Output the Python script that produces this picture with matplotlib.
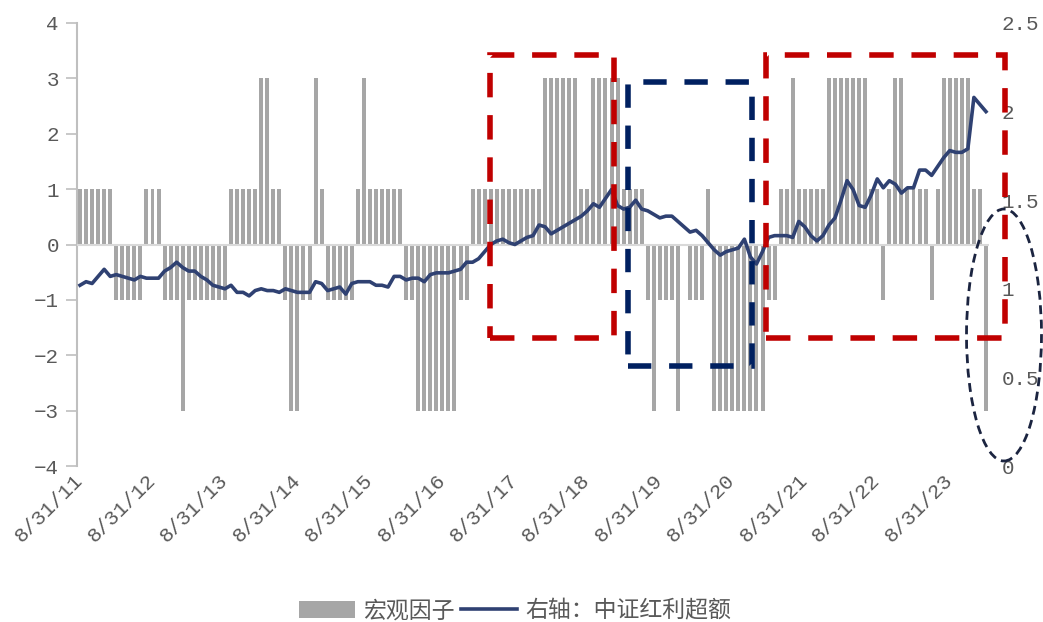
import matplotlib
matplotlib.use('Agg')
import matplotlib.pyplot as plt
from matplotlib.patches import Rectangle, Ellipse, Patch
from matplotlib.lines import Line2D
from matplotlib.font_manager import FontProperties
from matplotlib.transforms import ScaledTranslation

# ---------------- data ----------------
# monthly macro factor signal, Aug 2011 .. Feb 2024
macro = [
    1, 1, 1, 1, 1, 1, -1, -1, -1, -1,
    -1, 1, 1, 1, -1, -1, -1, -3, -1, -1,
    -1, -1, -1, -1, -1, 1, 1, 1, 1, 1,
    3, 3, 1, 1, -1, -3, -3, -1, -1, 3,
    1, -1, -1, -1, -1, -1, 1, 3, 1, 1,
    1, 1, 1, 1, -1, -1, -3, -3, -3, -3,
    -3, -3, -3, -1, -1, 1, 1, 1, 1, 1,
    1, 1, 1, 1, 1, 1, 1, 3, 3, 3,
    3, 3, 3, 1, 1, 3, 3, 3, 3, 3,
    1, 1, 1, 1, -1, -3, -1, -1, -1, -3,
    0, -1, -1, -1, 1, -3, -3, -3, -3, -3,
    -3, -3, -3, -3, -1, -1, 1, 1, 3, 1,
    1, 1, 1, 1, 3, 3, 3, 3, 3, 3,
    3, 1, 1, -1, 1, 3, 3, 1, 1, 1,
    1, -1, 1, 3, 3, 3, 3, 3, 1, 1,
    -3,
]

# right axis: CSI dividend excess (cumulative)
excess = [
    1.02, 1.04, 1.03, 1.07, 1.11, 1.07, 1.08, 1.07, 1.06, 1.05,
    1.07, 1.06, 1.06, 1.06, 1.10, 1.12, 1.15, 1.12, 1.10, 1.10,
    1.07, 1.05, 1.02, 1.01, 1.00, 1.02, 0.98, 0.98, 0.96, 0.99,
    1.00, 0.99, 0.99, 0.98, 1.00, 0.99, 0.98, 0.98, 0.98, 1.04,
    1.03, 0.99, 1.00, 1.01, 0.97, 1.03, 1.04, 1.04, 1.04, 1.02,
    1.02, 1.01, 1.07, 1.07, 1.05, 1.06, 1.06, 1.04, 1.08, 1.09,
    1.09, 1.09, 1.10, 1.11, 1.15, 1.15, 1.17, 1.21, 1.25, 1.27,
    1.28, 1.26, 1.25, 1.27, 1.29, 1.30, 1.36, 1.35, 1.31, 1.33,
    1.35, 1.37, 1.39, 1.41, 1.44, 1.48, 1.46, 1.51, 1.56, 1.47,
    1.45, 1.46, 1.50, 1.45, 1.44, 1.42, 1.40, 1.41, 1.41, 1.38,
    1.35, 1.32, 1.33, 1.30, 1.26, 1.22, 1.19, 1.21, 1.22, 1.23,
    1.28, 1.18, 1.14, 1.21, 1.29, 1.30, 1.30, 1.30, 1.29, 1.38,
    1.35, 1.30, 1.27, 1.30, 1.36, 1.40, 1.50, 1.61, 1.56, 1.47,
    1.46, 1.53, 1.62, 1.57, 1.61, 1.59, 1.54, 1.57, 1.57, 1.67,
    1.67, 1.64, 1.69, 1.74, 1.78, 1.77, 1.77, 1.79, 2.08, 2.04,
    2.00,
]

x_tick_index = [0, 12, 24, 36, 48, 60, 72, 84, 96, 108, 120, 132, 144]
x_tick_labels = ["8/31/11", "8/31/12", "8/31/13", "8/31/14", "8/31/15",
                 "8/31/16", "8/31/17", "8/31/18", "8/31/19", "8/31/20",
                 "8/31/21", "8/31/22", "8/31/23"]
left_ticks = [-4, -3, -2, -1, 0, 1, 2, 3, 4]
right_ticks = [0, 0.5, 1, 1.5, 2, 2.5]
right_tick_labels = ["0", "0.5", "1", "1.5", "2", "2.5"]
legend_labels = ["宏观因子", "右轴：中证红利超额"]

# ---------------- style ----------------
W, H = 1043, 622
BAR_C = '#A6A6A6'
LINE_C = '#2F4172'
TXT_C = '#595959'
AX_C = '#BFBFBF'
RED = '#C00000'
NAVY = '#002060'
num_font = ['Liberation Mono', 'DejaVu Sans Mono']
cjk_font = ['Noto Sans CJK SC', 'DejaVu Sans']

fig = plt.figure(figsize=(W / 100, H / 100), dpi=100)
ax = fig.add_axes([77 / W, 1 - 466 / H, (989 - 77) / W, (466 - 23) / H])

xs = list(range(len(macro)))
ax.bar(xs, macro, width=0.66, color=BAR_C, zorder=2)
ax.axhline(0, color='#D9D9D9', lw=1.5, zorder=3)
ax.set_xlim(-0.5, len(macro) - 0.5)
ax.set_ylim(-4, 4)
ax.set_yticks(left_ticks)
ax.set_yticklabels([str(v).replace('-', '\u2212') for v in left_ticks],
                   family=num_font, fontsize=15, color=TXT_C)
ax.tick_params(axis='y', length=8, width=1.2, color=AX_C, pad=5)
for s in ['top', 'right', 'bottom']:
    ax.spines[s].set_visible(False)
ax.spines['left'].set_color(AX_C)
ax.spines['left'].set_linewidth(1.5)
ax.set_xticks(x_tick_index)
ax.set_xticklabels(x_tick_labels, rotation=45, ha='right', va='top',
                   rotation_mode='anchor', family=num_font, fontsize=15,
                   color=TXT_C)
ax.tick_params(axis='x', length=0, pad=3)
shift = ScaledTranslation(-7 / 100, 0, fig.dpi_scale_trans)
for lab in ax.get_xticklabels():
    lab.set_transform(lab.get_transform() + shift)

ax2 = ax.twinx()
ax2.plot(xs, excess, color=LINE_C, lw=2.6, zorder=4)
ax2.set_ylim(0, 2.5)
ax2.set_yticks(right_ticks)
ax2.set_yticklabels(right_tick_labels, family=num_font, fontsize=15, color=TXT_C)
ax2.tick_params(axis='y', length=0, pad=9)
for s in ax2.spines.values():
    s.set_visible(False)

# ---------------- annotation shapes (figure pixels) ----------------
def rect(x0, y0, x1, y1, color, lw, dash):
    r = Rectangle((x0 / W, 1 - y1 / H), (x1 - x0) / W, (y1 - y0) / H,
                  transform=fig.transFigure, fill=False, edgecolor=color,
                  lw=lw, linestyle=(0, dash), joinstyle='miter', zorder=10)
    fig.add_artist(r)

rect(490, 55, 614, 338, RED, 4.0, (4.4, 3.2))
rect(628, 82, 752, 366, NAVY, 4.0, (4.2, 3.2))
rect(766, 55, 1005, 338, RED, 4.0, (4.4, 3.2))

ell = Ellipse((1004 / W, 1 - 335 / H), 75 / W, 252 / H,
              transform=fig.transFigure, fill=False, edgecolor='#1B2440',
              lw=2.0, linestyle=(0, (3.2, 2.0)), zorder=10)
fig.add_artist(ell)

# ---------------- legend ----------------
handles = [Patch(facecolor=BAR_C, edgecolor='none'),
           Line2D([], [], color=LINE_C, lw=2.6)]
leg = fig.legend(handles, legend_labels, loc='center',
                 bbox_to_anchor=(515 / W, 1 - 611 / H), ncol=2, frameon=False,
                 prop=FontProperties(family=cjk_font, size=16.5, weight='light'),
                 handlelength=2.45, handleheight=0.78, handletextpad=0.35,
                 columnspacing=0.25, labelcolor=TXT_C)

fig.savefig('out.png', dpi=100)
